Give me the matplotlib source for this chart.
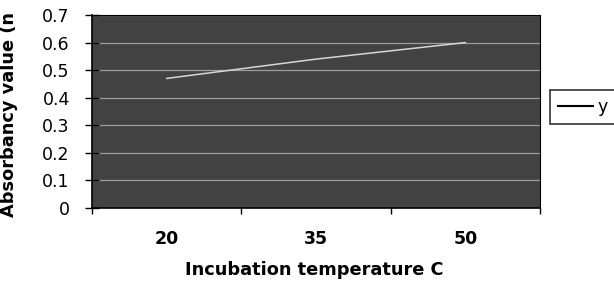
import matplotlib
matplotlib.use("Agg")
import matplotlib.pyplot as plt

categories = ["20", "35", "50"]
values = [0.47, 0.54, 0.60]
series_name = "y"
y_ticks = [0, 0.1, 0.2, 0.3, 0.4, 0.5, 0.6, 0.7]
y_tick_labels = ["0", "0.1", "0.2", "0.3", "0.4", "0.5", "0.6", "0.7"]

plt.rcParams['font.family'] = ['DejaVu Sans']

W, H = 614, 288
fig = plt.figure(figsize=(W / 100, H / 100), dpi=100)
fig.patch.set_facecolor('white')
L, R, T, B = 92, 540, 15, 208
ax = fig.add_axes([L / W, 1 - B / H, (R - L) / W, (B - T) / H])
ax.set_facecolor('#424242')

x = list(range(len(categories)))
ax.set_ylim(0, 0.7)
ax.set_xlim(-0.5, len(categories) - 0.5)
for yv in y_ticks[1:]:
    ax.axhline(yv, color='#9c9c9c', lw=0.9, zorder=1)
ax.plot(x, values, color='#d6d6d6', lw=1.1, label=series_name, zorder=3)

ax.set_yticks(y_ticks)
ax.set_yticklabels(y_tick_labels, fontsize=12.5)
ax.set_xticks(x)
ax.set_xticklabels(categories, fontsize=12.5, fontweight='bold')
ax.set_xticks([i - 0.5 for i in range(len(categories) + 1)], minor=True)
ax.tick_params(axis='x', which='major', length=0, pad=16)
ax.tick_params(axis='x', which='minor', length=4, direction='out', width=1)
ax.tick_params(axis='y', length=10, direction='inout', width=1, pad=11)

for s in ['top', 'right', 'left', 'bottom']:
    ax.spines[s].set_color('black')
ax.spines['left'].set_linewidth(1.2)
ax.spines['bottom'].set_linewidth(1.2)
ax.spines['top'].set_linewidth(0.8)
ax.spines['right'].set_linewidth(0.8)

fig.text(314 / W, 1 - 270 / H, "Incubation temperature C", ha='center', va='center',
         fontsize=12.8, fontweight='bold')
fig.text(9 / W, 1 - 217 / H, "Absorbancy value (n", ha='center', va='bottom',
         rotation=90, fontsize=12.8, fontweight='bold')

leg = fig.legend(loc='upper left', bbox_to_anchor=(550 / W, 1 - 123 / H, 0.3, 33 / H),
                 mode='expand', frameon=True, fancybox=False, fontsize=12.5,
                 handlelength=2.0, borderaxespad=0, borderpad=0.45, handletextpad=0.3)
leg.get_frame().set_edgecolor('black')
leg.get_frame().set_linewidth(1.2)
for h in leg.get_lines():
    h.set_color('black')
    h.set_linewidth(1.5)

fig.savefig("out.png", dpi=100)
